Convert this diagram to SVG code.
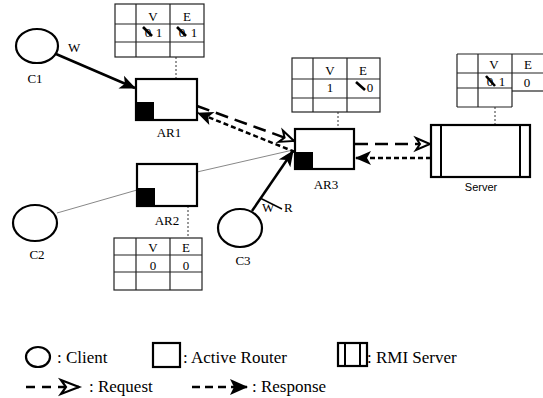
<svg xmlns="http://www.w3.org/2000/svg" width="543" height="398" viewBox="0 0 543 398">
<style>
text{font-family:"Liberation Serif","Times New Roman",serif;font-size:13px;fill:#000}
.lbl{text-anchor:middle}
.leg{font-size:17px}
.node{fill:#fff;stroke:#000;stroke-width:2.2}
.blk{fill:#000}
.tbl{fill:none;stroke:#222;stroke-width:1.2}
.dot{stroke:#333;stroke-width:1;stroke-dasharray:2 2;fill:none}
.thin{stroke:#888;stroke-width:1;fill:none}
.solid{stroke:#000;stroke-width:2.5;fill:none}
.req{stroke:#000;stroke-width:2.5;fill:none;stroke-dasharray:13 7}
.res{stroke:#000;stroke-width:2.5;fill:none;stroke-dasharray:5 3}
.strike{stroke:#000;stroke-width:2.6}
</style>
<defs>
<marker id="fa" markerUnits="userSpaceOnUse" viewBox="0 0 16 14" refX="15" refY="7" markerWidth="16" markerHeight="14" orient="auto" overflow="visible">
<path d="M0,0 L16,7 L0,14 L4,7 Z" fill="#000" stroke="none"/>
</marker>
<marker id="oa" markerUnits="userSpaceOnUse" viewBox="0 0 16 14" refX="15" refY="7" markerWidth="16" markerHeight="14" orient="auto" overflow="visible">
<path d="M1,1 L15,7 L1,13 L5,7 Z" fill="#fff" stroke="#000" stroke-width="2" stroke-dasharray="none" stroke-linejoin="miter"/>
</marker>
<marker id="faL" markerUnits="userSpaceOnUse" viewBox="0 0 18 16" refX="17" refY="8" markerWidth="18" markerHeight="16" orient="auto" overflow="visible">
<path d="M0,0 L18,8 L0,16 L4,8 Z" fill="#000" stroke="none"/>
</marker>
<marker id="oaL" markerUnits="userSpaceOnUse" viewBox="0 0 20 16" refX="19" refY="8" markerWidth="20" markerHeight="16" orient="auto" overflow="visible">
<path d="M1,1 L19,8 L1,15 L6,8 Z" fill="#fff" stroke="#000" stroke-width="2.2" stroke-dasharray="none"/>
</marker>
</defs>

<g id="connectors">
<line class="thin" x1="57" y1="213" x2="137" y2="190"/>
<line class="thin" x1="197" y1="172" x2="293" y2="150"/>
<line class="dot" x1="176" y1="57" x2="176" y2="79"/>
<line class="dot" x1="338" y1="112" x2="338" y2="129"/>
<line class="dot" x1="495" y1="107" x2="495" y2="125"/>
<line class="dot" x1="188" y1="206" x2="188" y2="238"/>
<line class="solid" x1="56" y1="54" x2="135" y2="88" marker-end="url(#fa)"/>
<line class="solid" x1="252" y1="211" x2="293" y2="151" marker-end="url(#fa)"/>
<line class="req" x1="197" y1="106" x2="294" y2="141" marker-end="url(#oa)"/>
<line class="res" x1="295" y1="152" x2="198" y2="113" marker-end="url(#fa)"/>
<line class="req" x1="355" y1="144" x2="430" y2="144" marker-end="url(#oa)"/>
<line class="res" x1="431" y1="158" x2="356" y2="158" marker-end="url(#fa)"/>
<text x="68" y="52">W</text>
<text x="262" y="212">W</text>
<text x="284" y="212">R</text>
<line stroke="#000" stroke-width="1.5" x1="260" y1="198" x2="282" y2="209"/>
</g>

<g id="C1">
<ellipse class="node" cx="37" cy="46" rx="21" ry="17"/>
<text class="lbl" x="35" y="83">C1</text>
</g>
<g id="C2">
<ellipse class="node" cx="35" cy="223" rx="22" ry="18"/>
<text class="lbl" x="37" y="259">C2</text>
</g>
<g id="C3">
<ellipse class="node" cx="240" cy="228" rx="22" ry="19"/>
<text class="lbl" x="243" y="265">C3</text>
</g>

<g id="AR1">
<rect class="node" x="136" y="79" width="61" height="41"/>
<rect class="blk" x="136" y="102" width="18" height="18"/>
<text class="lbl" x="169" y="137">AR1</text>
</g>
<g id="AR2">
<rect class="node" x="137" y="164" width="60" height="42"/>
<rect class="blk" x="137" y="188" width="18" height="18"/>
<text class="lbl" x="167" y="225">AR2</text>
</g>
<g id="AR3">
<rect class="node" x="295" y="129" width="59" height="40"/>
<rect class="blk" x="295" y="152" width="18" height="17"/>
<text class="lbl" x="326" y="189">AR3</text>
</g>
<g id="Server">
<rect class="node" x="431" y="125" width="99" height="52" stroke-width="2.5"/>
<line stroke="#000" stroke-width="2" x1="441" y1="125" x2="441" y2="177"/>
<line stroke="#000" stroke-width="2" x1="520" y1="125" x2="520" y2="177"/>
<text class="lbl" x="481" y="191" style="font-family:'Liberation Sans',Arial,sans-serif;font-size:11px">Server</text>
</g>

<g id="table-AR1">
<rect class="tbl" x="115" y="4" width="89" height="53"/>
<line class="tbl" x1="115" y1="24" x2="204" y2="24"/>
<line class="tbl" x1="115" y1="42" x2="204" y2="42"/>
<line class="tbl" x1="136" y1="4" x2="136" y2="57"/>
<line class="tbl" x1="170" y1="4" x2="170" y2="57"/>
<text class="lbl" x="153" y="21">V</text>
<text class="lbl" x="187" y="21">E</text>
<text class="lbl" x="148" y="37">0</text>
<text class="lbl" x="159" y="37">1</text>
<text class="lbl" x="182" y="37">0</text>
<text class="lbl" x="194" y="37">1</text>
<line class="strike" x1="143" y1="27" x2="152" y2="36"/>
<line class="strike" x1="177" y1="27" x2="186" y2="36"/>
</g>

<g id="table-AR3">
<rect class="tbl" x="292" y="58" width="88" height="54"/>
<line class="tbl" x1="292" y1="79" x2="380" y2="79"/>
<line class="tbl" x1="292" y1="98" x2="380" y2="98"/>
<line class="tbl" x1="313" y1="58" x2="313" y2="112"/>
<line class="tbl" x1="347" y1="58" x2="347" y2="112"/>
<text class="lbl" x="330" y="75">V</text>
<text class="lbl" x="363" y="75">E</text>
<text class="lbl" x="330" y="92">1</text>
<text class="lbl" x="370" y="92">0</text>
<line class="strike" x1="356" y1="82" x2="365" y2="90"/>
</g>

<g id="table-Server">
<line class="tbl" x1="457" y1="54" x2="543" y2="54"/>
<line class="tbl" x1="457" y1="73" x2="543" y2="73"/>
<line class="tbl" x1="457" y1="88" x2="512" y2="88"/>
<line class="tbl" x1="512" y1="91" x2="543" y2="91"/>
<line class="tbl" x1="457" y1="107" x2="512" y2="107"/>
<line class="tbl" x1="457" y1="54" x2="457" y2="107"/>
<line class="tbl" x1="478" y1="54" x2="478" y2="107"/>
<line class="tbl" x1="512" y1="54" x2="512" y2="107"/>
<text class="lbl" x="494" y="69">V</text>
<text class="lbl" x="528" y="69">E</text>
<text class="lbl" x="490" y="86">0</text>
<text class="lbl" x="502" y="86">1</text>
<text class="lbl" x="527" y="87">0</text>
<line class="strike" x1="486" y1="76" x2="495" y2="86"/>
</g>

<g id="table-AR2">
<rect class="tbl" x="114" y="238" width="88" height="52"/>
<line class="tbl" x1="114" y1="255" x2="202" y2="255"/>
<line class="tbl" x1="114" y1="272" x2="202" y2="272"/>
<line class="tbl" x1="136" y1="238" x2="136" y2="290"/>
<line class="tbl" x1="170" y1="238" x2="170" y2="290"/>
<text class="lbl" x="153" y="252">V</text>
<text class="lbl" x="186" y="252">E</text>
<text class="lbl" x="153" y="270">0</text>
<text class="lbl" x="186" y="270">0</text>
</g>

<g id="legend">
<ellipse class="node" cx="38" cy="357" rx="12" ry="10"/>
<text class="leg" x="57" y="363">: Client</text>
<rect class="node" x="153" y="343" width="27" height="24"/>
<text class="leg" x="183" y="363">: Active Router</text>
<rect class="node" x="338" y="343" width="29" height="23"/>
<line stroke="#000" stroke-width="2" x1="345" y1="343" x2="345" y2="366"/>
<line stroke="#000" stroke-width="2" x1="360" y1="343" x2="360" y2="366"/>
<text class="leg" x="367" y="363">: RMI Server</text>
<line stroke="#000" stroke-width="2.5" stroke-dasharray="9 7" x1="26" y1="387" x2="79" y2="387" marker-end="url(#oaL)"/>
<text class="leg" x="89" y="392">: Request</text>
<line stroke="#000" stroke-width="2.5" stroke-dasharray="8 5" x1="192" y1="387" x2="247" y2="387" marker-end="url(#faL)"/>
<text class="leg" x="252" y="392">: Response</text>
</g>
</svg>
